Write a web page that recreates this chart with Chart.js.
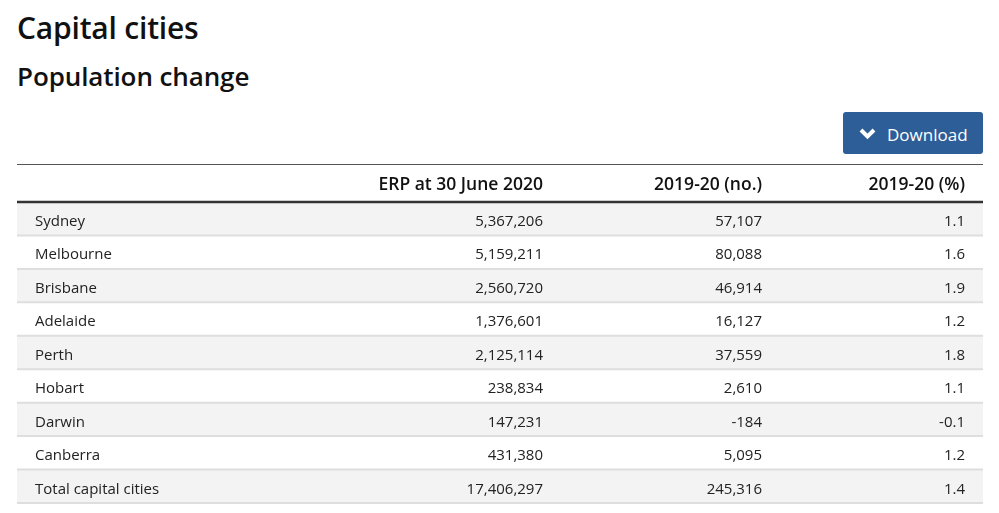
<!DOCTYPE html>
<html>
<head>
<meta charset="utf-8">
<script src="https://cdn.jsdelivr.net/npm/chart.js@4"></script>
<style>
  body { margin: 0; background: #fff; font-family: 'Open Sans', sans-serif; color: #111; }
  h1 { position: absolute; left: 17px; top: 7px; margin: 0; font-size: 30px; font-weight: 600; letter-spacing: -0.2px; }
  h2 { position: absolute; left: 17px; top: 58px; margin: 0; font-size: 26px; font-weight: 600; letter-spacing: -0.1px; }
  #dl { position: absolute; left: 843px; top: 112px; width: 140px; height: 42px; background: #2d5e98;
        border-radius: 3px; color: #fff; font-size: 17px; display: flex; align-items: center; padding-top: 2px; box-sizing: border-box; }
  #dl svg { margin-left: 16px; margin-right: 11px; }
  #wrap { position: absolute; left: 17px; top: 163px; width: 966px; height: 343px; }
</style>
</head>
<body>
<h1>Capital cities</h1>
<h2>Population change</h2>
<div id="dl"><svg width="17" height="12" viewBox="0 0 17 12"><path d="M2 2 L8.5 8.5 L15 2" stroke="#fff" stroke-width="4" fill="none"/></svg>Download</div>
<div id="wrap"><canvas id="tbl"></canvas></div>
<script>
// table data
const cities = ['Sydney', 'Melbourne', 'Brisbane', 'Adelaide', 'Perth', 'Hobart', 'Darwin', 'Canberra', 'Total capital cities'];
const erp = [5367206, 5159211, 2560720, 1376601, 2125114, 238834, 147231, 431380, 17406297];
const changeNo = [57107, 80088, 46914, 16127, 37559, 2610, -184, 5095, 245316];
const changePct = [1.1, 1.6, 1.9, 1.2, 1.8, 1.1, -0.1, 1.2, 1.4];
const headers = ['', 'ERP at 30 June 2020', '2019-20 (no.)', '2019-20 (%)'];

// right edge of each numeric column, as share of table width
const colRight = [null, 526 / 966, 745 / 966, 948 / 966];

const fmt = n => n.toLocaleString('en-US');

const cellPlugin = {
    id: 'cells',
    afterDatasetsDraw(chart) {
        const ctx = chart.ctx;
        const y = chart.scales.y;
        const area = chart.chartArea;
        const left = area.left, right = area.right, w = right - left;

        ctx.save();
        // top border
        ctx.strokeStyle = '#555';
        ctx.lineWidth = 1;
        ctx.beginPath();
        ctx.moveTo(left, 1.5); ctx.lineTo(right, 1.5);
        ctx.stroke();

        // header
        ctx.fillStyle = '#111';
        ctx.font = '600 17.5px "Open Sans"';
        ctx.textBaseline = 'middle';
        ctx.textAlign = 'right';
        for (let c = 1; c < headers.length; c++) {
            ctx.fillText(headers[c], left + w * colRight[c], (area.top + 2) / 2 + 2);
        }

        // row separators
        ctx.strokeStyle = '#dedede';
        ctx.lineWidth = 2;
        const rowH = y.getPixelForValue(1) - y.getPixelForValue(0);
        cities.forEach((c, i) => {
            const yb = y.getPixelForValue(i) + rowH / 2;
            ctx.beginPath();
            ctx.moveTo(left, yb); ctx.lineTo(right, yb);
            ctx.stroke();
        });

        // header underline
        ctx.strokeStyle = '#333';
        ctx.lineWidth = 2.5;
        ctx.beginPath();
        ctx.moveTo(left, area.top); ctx.lineTo(right, area.top);
        ctx.stroke();

        // cells
        ctx.font = '15px "Open Sans"';
        ctx.fillStyle = '#222';
        cities.forEach((name, i) => {
            const yc = y.getPixelForValue(i) + 3;
            ctx.textAlign = 'left';
            ctx.fillText(name, left + 18, yc);
            ctx.textAlign = 'right';
            ctx.fillText(fmt(erp[i]), left + w * colRight[1], yc);
            ctx.fillText(fmt(changeNo[i]), left + w * colRight[2], yc);
            ctx.fillText(changePct[i].toFixed(1), left + w * colRight[3], yc);
        });
        ctx.restore();
    }
};

new Chart(document.getElementById('tbl'), {
    type: 'bar',
    data: {
        labels: cities,
        datasets: [{
            // row backgrounds
            data: cities.map(() => 1),
            backgroundColor: cities.map((c, i) => i % 2 === 0 ? '#f3f3f3' : '#ffffff'),
            barPercentage: 1,
            categoryPercentage: 1
        }]
    },
    options: {
        indexAxis: 'y',
        responsive: true,
        maintainAspectRatio: false,
        animation: false,
        layout: { padding: { top: 39, bottom: 3, left: 0, right: 0 } },
        plugins: { legend: { display: false }, tooltip: { enabled: false } },
        scales: {
            x: { display: false, min: 0, max: 1 },
            y: { display: false }
        }
    },
    plugins: [cellPlugin]
});
</script>
</body>
</html>
